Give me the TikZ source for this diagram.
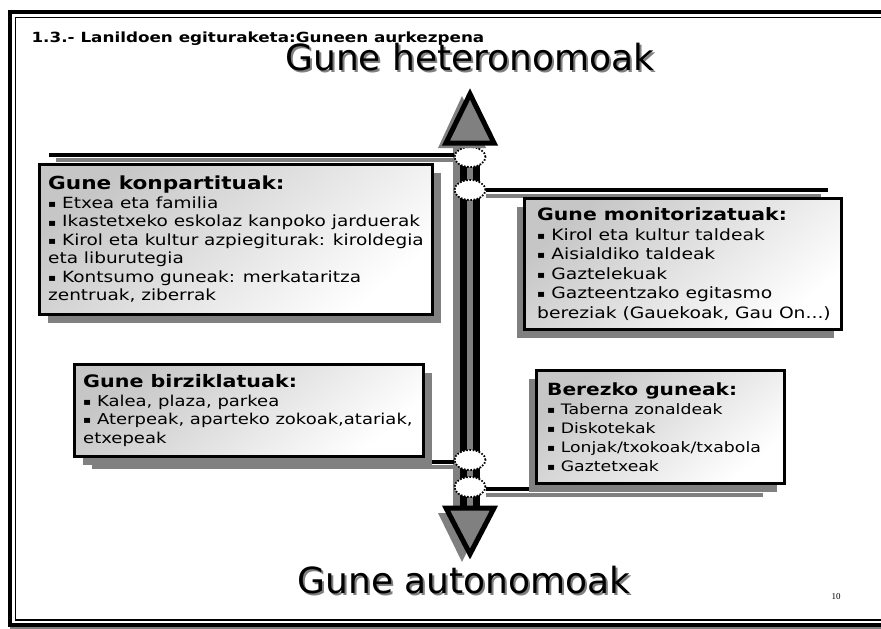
\documentclass[tikz,border=0pt]{standalone}
\usepackage{fontspec}
\setmainfont{DejaVu Sans}
\newfontfamily\widefont[FakeStretch=1.2]{DejaVu Sans}
\newfontfamily\numfont{Liberation Serif}
\usetikzlibrary{shapes.geometric,shadows}
\pgfdeclarelayer{back}
\pgfsetlayers{back,main}
\tikzstyle{zone} = [draw=black, line width=3pt, top color=gray!45, bottom color=white, shading angle=40, anchor=north west, inner sep=0pt]
\tikzstyle{zoneleft} = [zone, drop shadow={shadow xshift=8pt, shadow yshift=-8pt, fill=gray, opacity=1}]
\tikzstyle{zoneright} = [zone, drop shadow={shadow xshift=-8pt, shadow yshift=-8pt, fill=gray, opacity=1}]
\tikzstyle{zonetext} = [anchor=west, align=left, inner sep=0pt]
\tikzstyle{ring} = [ellipse, draw=black, fill=white, dash pattern=on 1.6pt off 1.6pt, line width=1.8pt, minimum width=31pt, minimum height=20pt, inner sep=0pt]
\tikzstyle{bar} = [line width=3.5pt]
\tikzstyle{barshadow} = [line width=3.5pt, gray]
\tikzstyle{head} = [draw=black, fill=gray, line width=5pt, line join=miter]
\tikzstyle{pole} = [font=\fontsize{36}{40}\selectfont]
\newcommand{\hd}[2]{{\fontsize{#1}{20}\selectfont\bfseries #2}}
\newcommand{\sq}{\raisebox{0.1ex}{\fontsize{10}{10}\selectfont▪}}

\begin{document}
\begin{tikzpicture}[x=1pt,y=-1pt]
\useasboundingbox (0,0) rectangle (881,629);
\draw[line width=4pt] (900,12) -| (10,624.5) -- (900,624.5);
\draw[line width=1.5pt] (900,17.5) -| (15.5,620) -- (900,620);
\draw[line width=2pt, gray] (10,628) -- (900,628);
\node[anchor=west, font=\widefont\fontsize{14}{16}\selectfont\bfseries] (title) at (28,39) {1.3.- Lanildoen egituraketa:Guneen aurkezpena};
\node[pole, text=gray] (hetshadow) at (472,59) {Gune heteronomoak};
\node[pole] (het) at (470,57) {Gune heteronomoak};
\node[pole, text=gray] (autshadow) at (466,582) {Gune autonomoak};
\node[pole] (aut) at (464,580) {Gune autonomoak};
\node[font=\numfont\fontsize{9}{10}\selectfont] (pg) at (836,597) {10};
\node[ring] (r1) at (470,157) {};
\node[ring] (r2) at (470,190) {};
\node[ring] (r3) at (470,460) {};
\node[ring] (r4) at (470,487) {};
\coordinate (l1) at (49,155);
\coordinate (l2) at (828,190);
\coordinate (l3) at (85,462);
\coordinate (l4) at (770,489);
\begin{pgfonlayer}{back}
\fill[gray] (453,148) rectangle (473,515);
\fill[gray] (460,143) rectangle (480,508);
\draw[line width=6.5pt] (463.5,143) -- (463.5,508);
\draw[line width=6.5pt] (476.5,143) -- (476.5,508);
\draw[barshadow] ([xshift=7pt,yshift=-5pt]l1) -- ([yshift=-5pt]l1 -| r1.west);
\draw[bar] (l1) -- (l1 -| r1.west);
\draw[barshadow] ([yshift=-6pt]r2.east) -- ([xshift=-7pt,yshift=-6pt]l2);
\draw[bar] (r2.east) -- (l2);
\draw[barshadow] ([xshift=7pt,yshift=-5pt]l3) -- ([yshift=-5pt]l3 -| r3.west);
\draw[bar] (l3) -- (l3 -| r3.west);
\draw[barshadow] ([yshift=-6pt]l4 -| r4.east) -- ([xshift=-7pt,yshift=-6pt]l4);
\draw[bar] (l4 -| r4.east) -- (l4);
\end{pgfonlayer}
\node[zoneleft, minimum width=393pt, minimum height=150pt] (shared) at (38,163) {};
\node[zonetext, font=\widefont\fontsize{15.4}{18.5}\selectfont] (sharedtext) at ([xshift=10pt]shared.west)
 {\hd{18}{Gune konpartituak:}\\ \sq{} Etxea eta familia\\ \sq{} Ikastetxeko eskolaz kanpoko jarduerak\\ \sq{} Kirol eta kultur azpiegiturak: kiroldegia\\ eta liburutegia\\ \sq{} Kontsumo guneak: merkataritza\\ zentruak, ziberrak};
\node[zoneright, minimum width=317pt, minimum height=131pt] (guided) at (523,197) {};
\node[zonetext, font=\widefont\fontsize{15.6}{19.5}\selectfont] (guidedtext) at ([xshift=14pt]guided.west)
 {\hd{17}{Gune monitorizatuak:}\\ \sq{} Kirol eta kultur taldeak\\ \sq{} Aisialdiko taldeak\\ \sq{} Gaztelekuak\\ \sq{} Gazteentzako egitasmo\\ bereziak (Gauekoak, Gau On...)};
\node[zoneleft, minimum width=349pt, minimum height=92pt] (recycled) at (73,363) {};
\node[zonetext, font=\widefont\fontsize{15}{18.5}\selectfont] (recycledtext) at ([xshift=10pt]recycled.west)
 {\hd{17.2}{Gune birziklatuak:}\\ \sq{} Kalea, plaza, parkea\\ \sq{} Aterpeak, aparteko zokoak,atariak,\\ etxepeak};
\node[zoneright, minimum width=248pt, minimum height=113pt] (special) at (535,369) {};
\node[zonetext, font=\widefont\fontsize{14.4}{19}\selectfont] (specialtext) at ([xshift=12pt]special.west)
 {\hd{16.8}{Berezko guneak:}\\ \sq{} Taberna zonaldeak\\ \sq{} Diskotekak\\ \sq{} Lonjak/txokoak/txabola\\ \sq{} Gaztetxeak};
\fill[gray] (438,148) -- (462,96) -- (486,148) -- cycle;
\filldraw[head] (446,143) -- (470,94) -- (494,143) -- cycle;
\fill[gray] (438,513) -- (462,562) -- (486,513) -- cycle;
\filldraw[head] (446,508) -- (470,554) -- (494,508) -- cycle;
\end{tikzpicture}
\end{document}
